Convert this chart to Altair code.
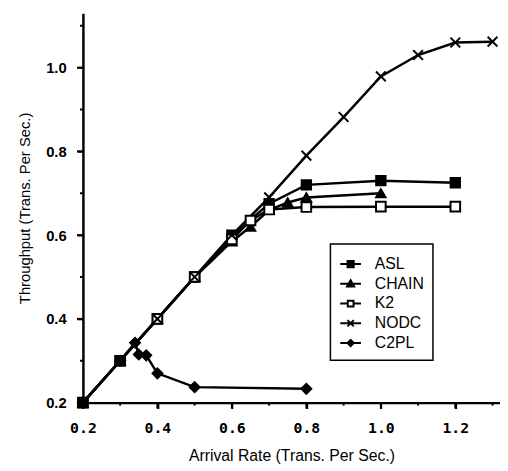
import altair as alt
import pandas as pd

series_order = ["ASL", "CHAIN", "K2", "NODC", "C2PL"]

asl_x = [0.2, 0.3, 0.4, 0.5, 0.6, 0.7, 0.8, 1.0, 1.2]
asl_y = [0.2, 0.3, 0.4, 0.5, 0.6, 0.675, 0.72, 0.73, 0.725]

chain_x = [0.2, 0.3, 0.4, 0.5, 0.6, 0.65, 0.7, 0.75, 0.8, 1.0]
chain_y = [0.2, 0.3, 0.4, 0.5, 0.585, 0.62, 0.66, 0.678, 0.69, 0.70]

k2_x = [0.2, 0.3, 0.4, 0.5, 0.6, 0.65, 0.7, 0.8, 1.0, 1.2]
k2_y = [0.2, 0.3, 0.4, 0.5, 0.59, 0.635, 0.661, 0.667, 0.668, 0.668]

nodc_x = [0.2, 0.3, 0.4, 0.5, 0.6, 0.7, 0.8, 0.9, 1.0, 1.1, 1.2, 1.3]
nodc_y = [0.2, 0.3, 0.4, 0.5, 0.6, 0.69, 0.79, 0.882, 0.979, 1.03, 1.06, 1.062]

c2pl_x = [0.2, 0.3, 0.34, 0.35, 0.37, 0.4, 0.5, 0.8]
c2pl_y = [0.2, 0.3, 0.343, 0.315, 0.313, 0.27, 0.237, 0.233]

x_major = [0.2, 0.4, 0.6, 0.8, 1.0, 1.2]
x_minor = [0.3, 0.5, 0.7, 0.9, 1.1, 1.3]
y_major = [0.2, 0.4, 0.6, 0.8, 1.0]
y_minor = [0.3, 0.5, 0.7, 0.9, 1.1]

rows = []
for name, xs, ys in [("ASL", asl_x, asl_y), ("CHAIN", chain_x, chain_y),
                     ("K2", k2_x, k2_y), ("NODC", nodc_x, nodc_y),
                     ("C2PL", c2pl_x, c2pl_y)]:
    for xv, yv in zip(xs, ys):
        rows.append({"Series": name, "x": xv, "y": yv})
df = pd.DataFrame(rows)

PLOT_W, PLOT_H = 423, 395
FONT = "Liberation Sans"
x_scale = alt.Scale(domain=[0.2, 1.32], nice=False, zero=False)
y_scale = alt.Scale(domain=[0.2, 1.13], nice=False, zero=False)

x_enc = alt.X("x:Q", scale=x_scale,
              axis=alt.Axis(title="Arrival Rate (Trans. Per Sec.)", values=x_major,
                            format=".1f", ticks=True, tickSize=6, tickWidth=2, tickColor="black",
                            tickOpacity=1, orient="bottom",
                            labelOverlap=False, labelFlush=False,
                            labelFont="DejaVu Sans Mono", labelFontWeight="bold",
                            labelFontSize=15, labelPadding=12,
                            titleFont=FONT, titleFontSize=16, titleFontWeight="normal",
                            titlePadding=13))
y_enc = alt.Y("y:Q", scale=y_scale,
              axis=alt.Axis(title="Throughput (Trans. Per Sec.)", values=y_major,
                            format=".1f", ticks=True, tickSize=6, tickWidth=2, tickColor="black",
                            tickOpacity=1, orient="left",
                            labelOverlap=False, labelFlush=False,
                            labelFont=FONT, labelFontWeight="bold",
                            labelFontSize=15, labelPadding=11,
                            titleFont=FONT, titleFontSize=15, titleFontWeight="normal",
                            titlePadding=13))

lines = alt.Chart(df).mark_line(color="black", strokeWidth=2.5).encode(
    x=x_enc, y=y_enc, detail="Series:N")

# tick marks drawn at the axis baselines, positioned through the shared scales
xt_major = alt.Chart(pd.DataFrame({"v": x_major})).mark_rule(color="black", strokeWidth=2).encode(
    x=alt.X("v:Q", scale=x_scale, axis=None),
    y=alt.value(PLOT_H), y2=alt.value(PLOT_H + 6))
xt_minor = alt.Chart(pd.DataFrame({"v": x_minor})).mark_rule(color="black", strokeWidth=2).encode(
    x=alt.X("v:Q", scale=x_scale, axis=None),
    y=alt.value(PLOT_H), y2=alt.value(PLOT_H + 3))
yt_major = alt.Chart(pd.DataFrame({"v": y_major})).mark_rule(color="black", strokeWidth=2).encode(
    y=alt.Y("v:Q", scale=y_scale, axis=None),
    x=alt.value(0), x2=alt.value(-6))
yt_minor = alt.Chart(pd.DataFrame({"v": y_minor})).mark_rule(color="black", strokeWidth=2).encode(
    y=alt.Y("v:Q", scale=y_scale, axis=None),
    x=alt.value(0), x2=alt.value(-3))

point_shapes = ["square", "triangle-up", "square", "M-1,-1L1,1M-1,1L1,-1", "diamond"]
point_fills = ["black", "black", "white", "black", "black"]
point_sizes = [90, 100, 60, 100, 60]
point_widths = [2, 2, 2, 3.2, 2]

points = alt.Chart(df).mark_point(filled=True, stroke="black", opacity=1).encode(
    x=alt.X("x:Q", axis=None), y=alt.Y("y:Q", axis=None),
    shape=alt.Shape("Series:N", scale=alt.Scale(domain=series_order, range=point_shapes), legend=None),
    fill=alt.Fill("Series:N", scale=alt.Scale(domain=series_order, range=point_fills), legend=None),
    size=alt.Size("Series:N", scale=alt.Scale(domain=series_order, range=point_sizes), legend=None),
    strokeWidth=alt.StrokeWidth("Series:N", scale=alt.Scale(domain=series_order, range=point_widths), legend=None),
)

legend_shapes = [
    "M-1,0H1M-0.3,-0.3H0.3V0.3H-0.3Z",
    "M-1,0H1M-0.34,0.26L0,-0.34L0.34,0.26Z",
    "M-1,0H-0.28M0.28,0H1M-0.28,-0.28H0.28V0.28H-0.28Z",
    "M-1,0H1M-0.3,-0.3L0.3,0.3M-0.3,0.3L0.3,-0.3",
    "M-1,0H1M0,-0.3L0.3,0L0,0.3L-0.3,0Z",
]
legend_strokes = ["black", "black", "black", "black", "black"]

legend_layer = alt.Chart(df).transform_filter("false").mark_point(filled=False).encode(
    x=alt.X("x:Q", axis=None), y=alt.Y("y:Q", axis=None),
    shape=alt.Shape("Series:N", scale=alt.Scale(domain=series_order, range=legend_shapes),
                    legend=alt.Legend(title=None, orient="none", legendX=251, legendY=234,
                                      strokeColor="black", padding=9,
                                      symbolSize=441, symbolStrokeWidth=2,
                                      symbolOpacity=1,
                                      labelFont=FONT, labelFontSize=16, labelOffset=13,
                                      rowPadding=0, labelColor="black")),
    fill=alt.Fill("Series:N", scale=alt.Scale(domain=series_order, range=point_fills)),
    stroke=alt.Stroke("Series:N", scale=alt.Scale(domain=series_order, range=legend_strokes)),
)

chart = alt.layer(lines, xt_major, xt_minor, yt_major, yt_minor, points, legend_layer).resolve_scale(
    shape="independent", fill="independent", size="independent", stroke="independent"
).resolve_axis(x="independent", y="independent").properties(
    width=PLOT_W, height=PLOT_H,
    autosize=alt.AutoSizeParams(type="none"),
    padding={"left": 76, "top": 2, "right": 0, "bottom": 60},
).configure_view(stroke=None).configure_axis(
    grid=False, domainColor="black", domainWidth=2.5, tickColor="black", tickWidth=2,
    labelColor="black", titleColor="black"
).configure_legend(strokeWidth=1.5, symbolStrokeWidth=2)

chart.save("out.html", embed_options={"renderer": "svg", "actions": False})
